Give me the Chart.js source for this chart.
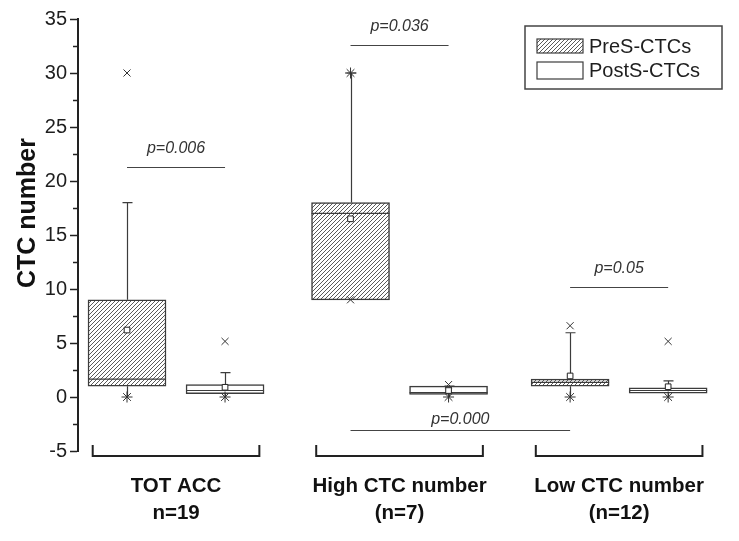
<!DOCTYPE html>
<html>
<head>
<meta charset="utf-8">
<script src="https://cdn.jsdelivr.net/npm/chart.js@4/dist/chart.umd.min.js"></script>
<style>
  html, body { margin: 0; background: #fff; }
  #wrap { width: 739px; height: 541px; }
</style>
</head>
<body>
<div id="wrap"><canvas id="chart"></canvas></div>
<script>
"use strict";

// groups and series
const groupLabels = ["TOT ACC", "High CTC number", "Low CTC number"];
const groupCounts = ["n=19", "(n=7)", "(n=12)"];
const seriesLabels = ["PreS-CTCs", "PostS-CTCs"];

// PreS-CTCs box statistics, one value per group
const preQ1 = [1.0, 9.0, 1.0];
const preMedian = [1.65, 17.0, 1.35];
const preQ3 = [9.0, 18.0, 1.65];
const preMean = [6.2, 16.5, 1.95];
const preWhiskerLow = [0, 9.0, 0];
const preWhiskerHigh = [18.0, 30.0, 5.95];
const preCross = [30.0, 9.0, 6.6];
const preStar = [0, 30.0, 0];

// PostS-CTCs box statistics
const postQ1 = [0.3, 0.25, 0.35];
const postMedian = [0.6, 0.4, 0.6];
const postQ3 = [1.15, 1.0, 0.85];
const postMean = [0.9, 0.6, 0.95];
const postWhiskerLow = [0, 0, 0];
const postWhiskerHigh = [2.25, 1.0, 1.5];
const postCross = [5.15, 1.15, 5.15];
const postStar = [0, 0, 0];

// significance bars: from (group, series) to (group, series) at a level
const pLabels = ["p=0.006", "p=0.036", "p=0.05", "p=0.000"];
const pLevels = [21.3, 32.6, 10.2, -3.1];
const pFromGroup = [0, 1, 2, 1];
const pFromSeries = [0, 0, 0, 0];
const pToGroup = [0, 1, 2, 2];
const pToSeries = [1, 1, 1, 0];

// y axis
const yMin = -5;
const yMax = 35;
const yStep = 5;

// layout (x units, one unit = one box slot)
const groupCenters = [1, 3.28, 5.52];
const xMax = 6.6;

const series = [
  { q1: preQ1, median: preMedian, q3: preQ3, mean: preMean,
    low: preWhiskerLow, high: preWhiskerHigh, cross: preCross, star: preStar },
  { q1: postQ1, median: postMedian, q3: postQ3, mean: postMean,
    low: postWhiskerLow, high: postWhiskerHigh, cross: postCross, star: postStar },
];

const boxX = (g, s) => groupCenters[g] + (s === 0 ? -0.5 : 0.5);

function makeHatch() {
  const tile = document.createElement("canvas");
  tile.width = 4;
  tile.height = 4;
  const c = tile.getContext("2d");
  c.fillStyle = "#fff";
  c.fillRect(0, 0, 4, 4);
  c.strokeStyle = "#5a5a5a";
  c.lineWidth = 1;
  c.beginPath();
  c.moveTo(-1, 5); c.lineTo(5, -1);
  c.moveTo(-1, 1); c.lineTo(1, -1);
  c.moveTo(3, 5); c.lineTo(5, 3);
  c.stroke();
  return c.createPattern(tile, "repeat");
}

const hatch = makeHatch();
const fills = [hatch, "#ffffff"];
const lineColor = "#3c3c3c";
const textColor = "#1e1e1e";

const datasets = [];

// markers first so they draw over the boxes
series.forEach((s, i) => {
  datasets.push({
    type: "scatter",
    data: groupLabels.map((_, g) => ({ x: boxX(g, i), y: s.mean[g] })),
    pointStyle: "rect",
    pointRadius: 4,
    backgroundColor: "#fff",
    borderColor: "#222",
    borderWidth: 1,
    order: 0,
  });
  datasets.push({
    type: "scatter",
    data: groupLabels.map((_, g) => ({ x: boxX(g, i), y: s.cross[g] })),
    pointStyle: "crossRot",
    pointRadius: 5,
    borderColor: "#333",
    borderWidth: 1,
    order: 0,
  });
  datasets.push({
    type: "scatter",
    data: groupLabels.map((_, g) => ({ x: boxX(g, i), y: s.star[g] })),
    pointStyle: "star",
    pointRadius: 5.5,
    borderColor: "#333",
    borderWidth: 1,
    order: 0,
  });
});

series.forEach((s, i) => {
  datasets.push({
    type: "bar",
    label: seriesLabels[i],
    seriesIndex: i,
    data: groupLabels.map((_, g) => ({ x: boxX(g, i), y: [s.q1[g], s.q3[g]] })),
    backgroundColor: fills[i],
    borderColor: lineColor,
    borderWidth: 1.5,
    borderSkipped: false,
    barThickness: 78,
    grouped: false,
    order: 2,
  });
});

const boxPlotExtras = {
  id: "boxPlotExtras",
  beforeDatasetsDraw(chart) {
    // whiskers with caps
    const { ctx, scales: { x, y } } = chart;
    ctx.save();
    ctx.strokeStyle = lineColor;
    ctx.lineWidth = 1.2;
    series.forEach((s, i) => {
      groupLabels.forEach((_, g) => {
        const px = Math.round(x.getPixelForValue(boxX(g, i))) + 0.5;
        const hi = y.getPixelForValue(s.high[g]);
        const lo = y.getPixelForValue(s.low[g]);
        ctx.beginPath();
        ctx.moveTo(px, y.getPixelForValue(s.q3[g]));
        ctx.lineTo(px, hi);
        ctx.moveTo(px - 5, hi);
        ctx.lineTo(px + 5, hi);
        ctx.moveTo(px, y.getPixelForValue(s.q1[g]));
        ctx.lineTo(px, lo);
        ctx.stroke();
      });
    });
    ctx.restore();
  },
  afterDatasetDraw(chart, args) {
    // median lines over the box fill
    const ds = chart.data.datasets[args.index];
    if (ds.type !== "bar") return;
    const s = series[ds.seriesIndex];
    const { ctx, scales: { y } } = chart;
    ctx.save();
    ctx.strokeStyle = lineColor;
    ctx.lineWidth = 1.2;
    args.meta.data.forEach((bar, g) => {
      const my = y.getPixelForValue(s.median[g]);
      ctx.beginPath();
      ctx.moveTo(bar.x - bar.width / 2, my);
      ctx.lineTo(bar.x + bar.width / 2, my);
      ctx.stroke();
    });
    ctx.restore();
  },
  afterDraw(chart) {
    const { ctx, chartArea, scales: { x, y } } = chart;
    ctx.save();

    // minor ticks
    ctx.strokeStyle = "#222";
    ctx.lineWidth = 1.5;
    for (let v = yMin + yStep / 2; v < yMax; v += yStep) {
      const py = Math.round(y.getPixelForValue(v)) + 0.5;
      ctx.beginPath();
      ctx.moveTo(chartArea.left - 5, py);
      ctx.lineTo(chartArea.left, py);
      ctx.stroke();
    }

    // y title
    ctx.fillStyle = "#111";
    ctx.font = "bold 25px 'Liberation Sans', Arial, sans-serif";
    ctx.textAlign = "center";
    ctx.textBaseline = "middle";
    ctx.save();
    ctx.translate(28, (chartArea.top + chartArea.bottom) / 2 - 22);
    ctx.rotate(-Math.PI / 2);
    ctx.fillText("CTC number", 0, 0);
    ctx.restore();

    // significance bars
    ctx.strokeStyle = "#444";
    ctx.lineWidth = 1.2;
    ctx.fillStyle = "#333";
    ctx.font = "italic 16px 'Liberation Sans', Arial, sans-serif";
    pLabels.forEach((label, k) => {
      const x1 = x.getPixelForValue(boxX(pFromGroup[k], pFromSeries[k]));
      const x2 = x.getPixelForValue(boxX(pToGroup[k], pToSeries[k]));
      const py = Math.round(y.getPixelForValue(pLevels[k])) + 0.5;
      ctx.beginPath();
      ctx.moveTo(x1, py);
      ctx.lineTo(x2, py);
      ctx.stroke();
      const gap = pLevels[k] < 0 ? 11 : 19;
      ctx.fillText(label, (x1 + x2) / 2, py - gap);
    });

    // group brackets and labels
    ctx.strokeStyle = "#222";
    ctx.lineWidth = 2;
    ctx.fillStyle = "#111";
    ctx.font = "bold 20.5px 'Liberation Sans', Arial, sans-serif";
    groupLabels.forEach((label, g) => {
      const cx = x.getPixelForValue(groupCenters[g]);
      const half = x.getPixelForValue(groupCenters[g] + 0.85) - cx;
      const by = chartArea.bottom + 5;
      ctx.beginPath();
      ctx.moveTo(cx - half, by - 11);
      ctx.lineTo(cx - half, by);
      ctx.lineTo(cx + half, by);
      ctx.lineTo(cx + half, by - 11);
      ctx.stroke();
      ctx.fillText(label, cx, chartArea.bottom + 35);
      ctx.fillText(groupCounts[g], cx, chartArea.bottom + 62);
    });

    // legend
    const lw = 197, lh = 63;
    const lx = chartArea.right - 3 - lw;
    const ly = chartArea.top + 7;
    ctx.strokeStyle = "#444";
    ctx.lineWidth = 1.5;
    ctx.strokeRect(lx, ly, lw, lh);
    const swY = [ly + 13, ly + 36];
    const swH = [14, 17];
    ctx.font = "20px 'Liberation Sans', Arial, sans-serif";
    ctx.textAlign = "left";
    ctx.fillStyle = textColor;
    seriesLabels.forEach((label, i) => {
      ctx.fillStyle = fills[i];
      ctx.fillRect(lx + 12, swY[i], 46, swH[i]);
      ctx.strokeStyle = lineColor;
      ctx.lineWidth = 1.2;
      ctx.strokeRect(lx + 12, swY[i], 46, swH[i]);
      ctx.fillStyle = textColor;
      ctx.fillText(label, lx + 64, swY[i] + swH[i] / 2 + 1);
    });

    ctx.restore();
  },
};

const ctx = document.getElementById("chart").getContext("2d");
const chart = new Chart(ctx, {
  type: "bar",
  data: { datasets: datasets },
  options: {
    responsive: true,
    maintainAspectRatio: false,
    animation: false,
    layout: { padding: { top: 19, bottom: 90, left: 0, right: 14 } },
    plugins: {
      legend: { display: false },
      tooltip: { enabled: false },
    },
    scales: {
      x: {
        type: "linear",
        min: 0,
        max: xMax,
        offset: false,
        display: false,
      },
      y: {
        type: "linear",
        min: yMin,
        max: yMax,
        afterFit: (scale) => { scale.width = 78; },
        ticks: {
          stepSize: yStep,
          color: textColor,
          padding: 3,
          font: { family: "'Liberation Sans', Arial, sans-serif", size: 20 },
        },
        grid: {
          drawOnChartArea: false,
          drawTicks: true,
          tickLength: 8,
          tickWidth: 1.5,
          tickColor: "#222",
        },
        border: { display: true, color: "#222", width: 2 },
      },
    },
  },
  plugins: [boxPlotExtras],
});
</script>
</body>
</html>
